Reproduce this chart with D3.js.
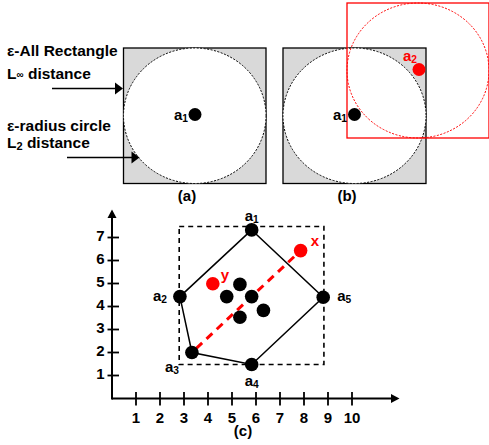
<!DOCTYPE html>
<html><head><meta charset="utf-8">
<script src="https://cdn.jsdelivr.net/npm/d3@7"></script>
<style>body{margin:0;background:#fff}svg{display:block}text{font-family:"Liberation Sans",Arial,sans-serif;font-weight:bold}</style>
</head><body><svg id="c" width="489" height="445"></svg>
<script>
// ---- data ----
const xTicks = [1,2,3,4,5,6,7,8,9,10];
const yTicks = [1,2,3,4,5,6,7];
const hullNames = ["a1","a2","a3","a4","a5"];
const hullX = [5.82, 2.83, 3.33, 5.82, 8.8];
const hullY = [7.33, 4.43, 2.0, 1.48, 4.4];
const innerX = [5.33, 4.78, 5.82, 6.31, 5.33];
const innerY = [4.96, 4.43, 4.43, 3.83, 3.53];
const redNames = ["x","y"];
const redX = [7.86, 4.2];
const redY = [6.43, 4.99];
const boxX = [2.8, 8.83];
const boxY = [1.48, 7.48];
const leftLabels = ["ε-All Rectangle","L∞ distance","ε-radius circle","L2 distance"];
const panelLabels = ["(a)","(b)","(c)"];

const svg = d3.select("#c");
const FS = 15;

// ---- top panels (a),(b) ----
function square(g, x0, y0, w, h, col, fill){
  g.append("rect").attr("x",x0).attr("y",y0).attr("width",w).attr("height",h)
   .attr("fill",fill).attr("stroke",col).attr("stroke-width",1.3);
  g.append("ellipse").attr("cx",x0+w/2).attr("cy",y0+h/2).attr("rx",w/2).attr("ry",h/2)
   .attr("fill","#fff").attr("stroke",col).attr("stroke-width",1)
   .attr("stroke-dasharray","2,1.5");
}
const topG = svg.append("g");
square(topG,123.5,48,142.5,135.5,"black","#d9d9d9");
square(topG,283,48,143,135.5,"black","#d9d9d9");
// red
topG.append("rect").attr("x",347).attr("y",3).attr("width",142).attr("height",135)
  .attr("fill","none").attr("stroke","#f00").attr("stroke-width",1.3);
topG.append("ellipse").attr("cx",418).attr("cy",70.5).attr("rx",71).attr("ry",67.5)
  .attr("fill","none").attr("stroke","#f00").attr("stroke-width",1).attr("stroke-dasharray","2,1.5");

function sub(g, x, y, base, s, col, anchor, fs){
  fs = fs||FS;
  const t = g.append("text").attr("x",x).attr("y",y).attr("fill",col).attr("font-size",fs)
    .attr("text-anchor",anchor||"middle").attr("dominant-baseline","middle");
  t.append("tspan").text(base);
  if(s) t.append("tspan").attr("font-size",fs*0.68).attr("dy",3).text(s);
  return t;
}
topG.append("circle").attr("cx",195).attr("cy",114.5).attr("r",6.5).attr("fill","black");
sub(topG,188,116,"a","1","black","end");
topG.append("circle").attr("cx",354.5).attr("cy",114.5).attr("r",6.5).attr("fill","black");
sub(topG,347,116,"a","1","black","end");
topG.append("circle").attr("cx",419).attr("cy",69.5).attr("r",6.5).attr("fill","#f00");
sub(topG,410,57,"a","2","#f00","middle");

// left labels
const ly = [52,75,127,144];
leftLabels.forEach((s,i)=>{
  const t = topG.append("text").attr("x",7).attr("y",ly[i]).attr("font-size",15.5).attr("dominant-baseline","middle");
  if(i===1){
    t.append("tspan").text("L");
    t.append("tspan").attr("font-size",10).text("∞");
    t.append("tspan").text(" distance");
  } else if(i===3){
    t.append("tspan").text("L");
    t.append("tspan").attr("font-size",11).attr("dy",3).text("2");
    t.append("tspan").attr("dy",-3).text(" distance");
  } else {
    t.text(s);
  }
});
// arrows
function arrow(g,x1,x2,y){
  g.append("line").attr("x1",x1).attr("x2",x2-7).attr("y1",y).attr("y2",y).attr("stroke","black").attr("stroke-width",1.3);
  g.append("path").attr("d",`M${x2},${y}L${x2-8},${y-6}L${x2-8},${y+6}Z`).attr("fill","black");
}
arrow(topG,52,123,88.5);
arrow(topG,67,139.5,157.5);
topG.append("text").attr("x",187).attr("y",197).attr("font-size",FS).attr("text-anchor","middle").attr("dominant-baseline","middle").text(panelLabels[0]);
topG.append("text").attr("x",347).attr("y",197).attr("font-size",FS).attr("text-anchor","middle").attr("dominant-baseline","middle").text(panelLabels[1]);

// ---- panel (c) ----
const x = d3.scaleLinear().domain([0,10]).range([112,352]);
const y = d3.scaleLinear().domain([0,7]).range([398.5,237.5]);
const c = svg.append("g");
// axes
c.append("line").attr("x1",x(0)).attr("x2",393).attr("y1",y(0)).attr("y2",y(0)).attr("stroke","black").attr("stroke-width",2);
c.append("path").attr("d",`M399.5,${y(0)}L391,${y(0)-4.5}L391,${y(0)+4.5}Z`).attr("fill","black");
c.append("line").attr("x1",x(0)).attr("x2",x(0)).attr("y1",y(0)+1).attr("y2",216).attr("stroke","black").attr("stroke-width",2);
c.append("path").attr("d",`M${x(0)},209.5L${x(0)-4.5},218L${x(0)+4.5},218Z`).attr("fill","black");
xTicks.forEach(v=>{
  c.append("line").attr("x1",x(v)).attr("x2",x(v)).attr("y1",y(0)-6.5).attr("y2",y(0)+7).attr("stroke","black").attr("stroke-width",1.8);
  c.append("text").attr("x",x(v)).attr("y",419).attr("font-size",FS).attr("text-anchor","middle").attr("dominant-baseline","middle").text(v);
});
yTicks.forEach(v=>{
  c.append("line").attr("x1",x(0)-4.5).attr("x2",x(0)+7).attr("y1",y(v)).attr("y2",y(v)).attr("stroke","black").attr("stroke-width",1.8);
  c.append("text").attr("x",100.5).attr("y",y(v)).attr("font-size",FS).attr("text-anchor","middle").attr("dominant-baseline","middle").text(v);
});
// dashed bounding rect
c.append("rect").attr("x",x(boxX[0])).attr("y",y(boxY[1])).attr("width",x(boxX[1])-x(boxX[0])).attr("height",y(boxY[0])-y(boxY[1]))
  .attr("fill","none").attr("stroke","black").attr("stroke-width",1.6).attr("stroke-dasharray","5,4");
// hull polygon
const hullPts = hullX.map((v,i)=>[x(v),y(hullY[i])]);
c.append("path").attr("d","M"+hullPts.join("L")+"Z").attr("fill","none").attr("stroke","black").attr("stroke-width",1.5);
// red dashed line
c.append("line").attr("x1",x(hullX[2])).attr("y1",y(hullY[2])).attr("x2",x(redX[0])).attr("y2",y(redY[0]))
  .attr("stroke","#f00").attr("stroke-width",3).attr("stroke-dasharray","8,6").attr("stroke-dashoffset",-6);
// dots
hullPts.forEach(p=>c.append("circle").attr("cx",p[0]).attr("cy",p[1]).attr("r",6.8).attr("fill","black"));
innerX.forEach((v,i)=>c.append("circle").attr("cx",x(v)).attr("cy",y(innerY[i])).attr("r",6.8).attr("fill","black"));
redX.forEach((v,i)=>c.append("circle").attr("cx",x(v)).attr("cy",y(redY[i])).attr("r",6.8).attr("fill","#f00"));
// labels
const hOff = [[0,-13,"middle"],[-13,0,"end"],[-20,15,"middle"],[0,18,"middle"],[14,0,"start"]];
hullPts.forEach((p,i)=>sub(c,p[0]+hOff[i][0],p[1]+hOff[i][1],"a",hullNames[i].slice(1),"black",hOff[i][2]));
c.append("text").attr("x",x(redX[0])+10).attr("y",y(redY[0])-9).attr("fill","#f00").attr("font-size",FS).attr("dominant-baseline","middle").text(redNames[0]);
c.append("text").attr("x",x(redX[1])+8).attr("y",y(redY[1])-8).attr("fill","#f00").attr("font-size",FS).attr("dominant-baseline","middle").text(redNames[1]);
c.append("text").attr("x",243).attr("y",432).attr("font-size",FS).attr("text-anchor","middle").attr("dominant-baseline","middle").text(panelLabels[2]);
</script></body></html>
